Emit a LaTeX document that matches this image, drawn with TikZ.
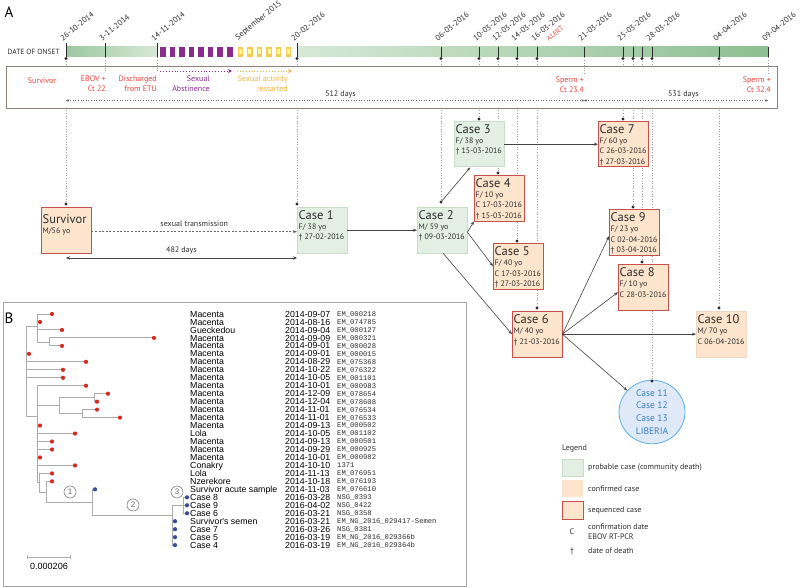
\documentclass[tikz,border=0pt]{standalone}
\usepackage{fontspec}
\setmainfont{PT Sans}
\newfontfamily\arialf{Liberation Sans}
\newfontfamily\monof{Liberation Mono}
\usetikzlibrary{arrows.meta,shapes.geometric}
\definecolor{probfill}{HTML}{E3EFE3}
\definecolor{probdraw}{HTML}{CCDACC}
\definecolor{conffill}{HTML}{FDE4CD}
\definecolor{confdraw}{HTML}{EED8C4}
\definecolor{seqdraw}{HTML}{C8504A}
\definecolor{txtdark}{HTML}{2E2E2E}
\definecolor{tlred}{HTML}{E5453B}
\definecolor{purp}{HTML}{8B2C8C}
\definecolor{yelt}{HTML}{F0B43C}
\definecolor{yelsq}{HTML}{F6CB55}
\definecolor{linkc}{HTML}{444444}
\definecolor{dotc}{HTML}{9A9A9A}
\definecolor{tickc}{HTML}{2A2A2A}
\definecolor{treec}{HTML}{ABABAB}
\definecolor{reddot}{HTML}{D42A20}
\definecolor{bluedot}{HTML}{3C4A9C}
\definecolor{ellfill}{HTML}{DFE9F7}
\definecolor{elldraw}{HTML}{5FB0E6}
\definecolor{elltext}{HTML}{3A7EC8}
\definecolor{boxline}{HTML}{8C847C}
\definecolor{barlight}{HTML}{D6E9D6}
\definecolor{bardark}{HTML}{8DBF92}
\newcommand\mycsttl{\fontsize{12.5}{13}\selectfont}
\newcommand\mycssub{\fontsize{7.9}{10.3}\selectfont}
\newcommand\mydatef{\fontsize{8}{9}\selectfont}
\newcommand\myboxf{\fontsize{8}{10}\selectfont}
\newcommand\mylegf{\fontsize{8}{10}\selectfont}
\tikzset{
 casebox/.style={draw, minimum width=49.5pt, minimum height=45.5pt, inner sep=0pt, anchor=north west, line width=0.9pt},
 prob/.style={casebox, fill=probfill, draw=probdraw},
 conf/.style={casebox, fill=conffill, draw=confdraw},
 seqc/.style={casebox, fill=conffill, draw=seqdraw},
 casetext/.style={anchor=north west, inner sep=0pt, align=left, font=\mycssub, text=txtdark},
 link/.style={draw=linkc, line width=0.6pt, -{Stealth[length=4pt,width=3pt]}},
 vdots/.style={draw=dotc, dotted, line width=0.6pt},
 datelbl/.style={rotate=39, anchor=south west, inner sep=0.3pt, font=\mydatef, text=txtdark},
 redtxt/.style={text=tlred, font=\myboxf, align=right, anchor=east, inner sep=0pt},
 treel/.style={draw=treec, line width=0.9pt},
 bname/.style={anchor=base west, inner sep=0pt, font=\arialf\fontsize{8.8}{9}\selectfont, text=black},
 bid/.style={anchor=base west, inner sep=0pt, font=\monof\fontsize{7.2}{8}\selectfont, text=txtdark},
 cnum/.style={circle, draw=gray, line width=0.6pt, minimum size=12pt, inner sep=0pt, font=\arialf\fontsize{8}{8}\selectfont, text=gray!80!black, fill=white},
 legtxt/.style={anchor=west, inner sep=0pt, font=\mylegf, text=txtdark, align=left},
}
\begin{document}
\begin{tikzpicture}[x=1pt,y=-1pt]
\useasboundingbox (0,0) rectangle (800,588);
\fill[white] (0,0) rectangle (800,588);

\node[font=\fontsize{15}{15}\selectfont, inner sep=0pt] (lblA) at (9,12) {A};
\node[anchor=east, font=\fontsize{7.5}{8}\selectfont, text=txtdark, inner sep=0pt] (dto) at (60,52) {DATE OF ONSET};

% bar
\shade[left color=bardark!80!barlight, right color=barlight] (66,47) rectangle (157,57);
\shade[left color=barlight, right color=bardark] (297,47) rectangle (768,57);
\foreach \k in {0,...,7} \fill[purp] ({160+9.55*\k},47) rectangle ++(5.7,10);
\foreach \k in {0,...,5} {\fill[yelsq] ({237.5+9.6*\k},47) rectangle ++(5.5,10);
  \fill[yellow!40!white] ({238.7+9.6*\k},49.5) rectangle ++(3.1,5);}

% ticks
\foreach \xx in {66,105,157,297} \draw[tickc, line width=0.8pt] (\xx,43) -- (\xx,57.5);
\foreach \xx in {441,479,498,517,537,584,623,633,642,652,719,768} \draw[tickc, line width=0.8pt] (\xx,47) -- (\xx,57.5);

% timeline dot coordinates
\foreach \nm/\xx in {sv/66,c1/297,c2/441,c3/479,c4/498,c5/517,c6/537,c7/623,c9/633,c8/642,el/652,c10/719}
  \coordinate (t\nm) at (\xx,58.5);
\coordinate (t311) at (105,57.5);
\coordinate (t1411) at (157,57.5);
\coordinate (t2103) at (584,57.5);
\coordinate (t0904) at (768,57.5);

% date labels
\node[datelbl] (l1) at (63,42) {26-10-2014};
\node[datelbl] (l2) at (102,42) {3-11-2014};
\node[datelbl] (l3) at (154,42) {14-11-2014};
\node[datelbl] (l4) at (239,42) {September 2015};
\node[datelbl] (l5) at (294,42) {20-02-2016};
\node[datelbl] (l6) at (438,42) {06-03-2016};
\node[datelbl] (l7) at (476,42) {10-03-2016};
\node[datelbl] (l8) at (495,42) {12-03-2016};
\node[datelbl] (l9) at (514,42) {14-03-2016};
\node[datelbl] (l10) at (534,42) {16-03-2016};
\node[datelbl, text=tlred, font=\fontsize{7}{8}\selectfont] (lal) at (549,42) {ALERT};
\node[datelbl] (l11) at (581,42) {21-03-2016};
\node[datelbl] (l12) at (620,42) {25-03-2016};
\node[datelbl] (l13) at (649,42) {28-03-2016};
\node[datelbl] (l14) at (716,42) {04-04-2016};
\node[datelbl] (l15) at (765,42) {09-04-2016};

% case dot coordinates
\coordinate (dsv) at (66,204);
\coordinate (dc1) at (297,204);
\coordinate (dc2) at (441,202);
\coordinate (dc3) at (479,119);
\coordinate (dc4) at (498,173);
\coordinate (dc5) at (517,241);
\coordinate (dc6) at (537,308);
\coordinate (dc7) at (623,119);
\coordinate (dc9) at (633,207);
\coordinate (dc8) at (642,262);
\coordinate (del) at (652,381);
\coordinate (dc10) at (719,308);

% vertical dotted connectors
\foreach \nm in {sv,c1,c2,c3,c4,c5,c6,c7,c9,c8,el,c10}
  \draw[vdots] (t\nm) -- (d\nm);

% timeline box
\node[draw=boxline, fill=white, line width=0.9pt, anchor=north west, minimum width=771pt, minimum height=42pt, inner sep=0pt] (tbox) at (6,66) {};
\coordinate (e311) at (105,73);
\coordinate (e1411) at (157,73);
\coordinate (e2103) at (584,74);
\coordinate (e0904) at (768,74);
\draw[vdots] (t311) -- (e311);
\draw[vdots] (t1411) -- (e1411);
\draw[vdots] (t2103) -- (e2103);
\draw[vdots] (t0904) -- (e0904);
\foreach \xx in {66,297,441,479,498,517,537,623,633,642,652,719} \fill[tickc] (\xx,58.5) circle[radius=1.7pt];

\node[text=tlred, font=\myboxf, inner sep=0pt] (bsv) at (42,81) {Survivor};
\node[redtxt] (bebov) at (106,84) {EBOV +\\Ct 22};
\node[redtxt] (bdis) at (157,84) {Discharged\\from ETU};
\node[redtxt, text=purp] (babs) at (210,84) {Sexual\\Abstinence};
\node[redtxt, text=yelt] (bres) at (288,84) {Sexual activity\\restarted};
\node[redtxt] (bsp1) at (584,85) {Sperm +\\Ct 23.4};
\node[redtxt] (bsp2) at (771,85) {Sperm +\\Ct 32.4};
\coordinate (pa1) at (160,71); \coordinate (pa2) at (232,71);
\coordinate (ya1) at (237,71); \coordinate (ya2) at (292,71);
\draw[purp, dotted, line width=0.9pt, -{Stealth[length=4pt,width=4pt]}] (pa1) -- (pa2);
\draw[yelt, dotted, line width=0.9pt, -{Stealth[length=4pt,width=4pt]}] (ya1) -- (ya2);
\coordinate (d512a) at (66,100.5); \coordinate (d512b) at (584,100.5); \coordinate (d531b) at (768,100.5);
\draw[dotc!70!black, dotted, line width=0.6pt, {Stealth[length=2.5pt,width=2.5pt]}-{Stealth[length=2.5pt,width=2.5pt]}] (d512a) -- node[pos=0.53, above=-1pt, font=\mylegf, text=txtdark] (t512) {512 days} (d512b);
\draw[dotc!70!black, dotted, line width=0.6pt, {Stealth[length=2.5pt,width=2.5pt]}-{Stealth[length=2.5pt,width=2.5pt]}] (d512b) -- node[pos=0.54, above=-1pt, font=\mylegf, text=txtdark] (t531) {531 days} (d531b);

% case boxes
\node[seqc] (sv) at (41,207) {};
\node[prob] (c1) at (297,207) {};
\node[prob] (c2) at (417,207) {};
\node[prob] (c3) at (454,121) {};
\node[seqc] (c4) at (474,175) {};
\node[seqc] (c5) at (493,243) {};
\node[seqc] (c6) at (512,311) {};
\node[seqc] (c7) at (598,121) {};
\node[seqc] (c8) at (618,264) {};
\node[seqc] (c9) at (609,209) {};
\node[conf] (c10) at (696,311) {};
\node[ellipse, draw=elldraw, fill=ellfill, line width=0.8pt, minimum width=66pt, minimum height=62pt, inner sep=0pt, align=center, text=elltext, font=\fontsize{9.5}{12.7}\selectfont] (el) at (652,412) {Case 11\\Case 12\\Case 13\\LIBERIA};

\node[casetext] (svt) at ([shift={(1.5,7)}]sv.north west) {{\mycsttl Survivor}\\M/56 yo};
\node[casetext] (c1t) at ([shift={(1.5,3.3)}]c1.north west) {{\mycsttl Case 1}\\F/ 38 yo\\† 27-02-2016};
\node[casetext] (c2t) at ([shift={(1.5,3.3)}]c2.north west) {{\mycsttl Case 2}\\M/ 59 yo\\† 09-03-2016};
\node[casetext] (c3t) at ([shift={(1.5,3.3)}]c3.north west) {{\mycsttl Case 3}\\F/ 38 yo\\† 15-03-2016};
\node[casetext] (c4t) at ([shift={(1.5,3.3)}]c4.north west) {{\mycsttl Case 4}\\F/ 10 yo\\C 17-03-2016\\† 15-03-2016};
\node[casetext] (c5t) at ([shift={(1.5,3.3)}]c5.north west) {{\mycsttl Case 5}\\F/ 40 yo\\C 17-03-2016\\† 27-03-2016};
\node[casetext] (c6t) at ([shift={(1.5,3.3)}]c6.north west) {{\mycsttl Case 6}\\M/ 40 yo\\† 21-03-2016};
\node[casetext] (c7t) at ([shift={(1.5,3.3)}]c7.north west) {{\mycsttl Case 7}\\F/ 60 yo\\C 26-03-2016\\† 27-03-2016};
\node[casetext] (c8t) at ([shift={(1.5,3.3)}]c8.north west) {{\mycsttl Case 8}\\F/ 10 yo\\C 28-03-2016};
\node[casetext] (c9t) at ([shift={(1.5,3.3)}]c9.north west) {{\mycsttl Case 9}\\F/ 23 yo\\C 02-04-2016\\† 03-04-2016};
\node[casetext] (c10t) at ([shift={(1.5,3.3)}]c10.north west) {{\mycsttl Case 10}\\M/ 70 yo\\C 06-04-2016};

\foreach \nm in {sv,c1,c2,c3,c4,c5,c6,c7,c9,c8,el,c10} \fill[tickc] (d\nm) circle[radius=1.7pt];

% links
\draw[link, dashed, dash pattern=on 2pt off 1.6pt, draw=linkc!80] ([yshift=-1.5pt]sv.east) -- node[above=1pt, font=\mylegf, text=txtdark] (lst) {sexual transmission} ([yshift=-1.5pt]c1.west);
\coordinate (m1) at (66,258); \coordinate (m2) at (297,258);
\draw[draw=linkc, line width=0.7pt, {Stealth[length=4pt,width=3.5pt]}-{Stealth[length=4pt,width=3.5pt]}] (m1) -- node[above=0pt, font=\mylegf, text=txtdark] (l482) {482 days} (m2);
\draw[link] (c1.east) -- (c2.west);
\draw[link] (dc2) -- ([xshift=-9pt]c3.south);
\draw[link] ([yshift=-2pt]c2.east) -- (c4.south west);
\draw[link] ([yshift=-2pt]c2.east) -- (c5.west);
\draw[link] ([xshift=1pt]c2.south) -- (c6.west);
\draw[link] (c3.east) -- (c7.west);
\draw[link] (c6.east) -- ([yshift=-4pt]c9.west);
\draw[link] (c6.east) -- ([yshift=-5pt]c8.west);
\draw[link] (c6.east) -- (c10.west);
\draw[link] (c6.east) -- (el);

% ---------------- Panel B
\node[draw=gray!70, line width=1.2pt, anchor=north west, minimum width=463pt, minimum height=284pt, inner sep=0pt] (pb) at (3,302) {};
\node[font=\fontsize{15}{15}\selectfont, inner sep=0pt] (lblB) at (9,318) {B};

% tree
\draw[treel] (26,326) -- (26,416.7) (26,326) -- (37,326)
 (37,314) -- (37,342) (37,314) -- (52,314) (37,322) -- (40,322) (37,329.9) -- (62,329.9)
 (37,342) -- (49,342) (49,337.9) -- (49,345.9) (49,337.9) -- (154,337.9) (49,345.9) -- (62,345.9)
 (26,353.9) -- (29,353.9) (26,361.8) -- (86,361.8) (26,369.8) -- (63,369.8) (26,377.8) -- (63,377.8)
 (26,416.7) -- (37,416.7) (37,385.7) -- (37,482.7) (37,385.7) -- (86,385.7)
 (37,405) -- (59,405) (59,397.3) -- (59,413.3) (59,397.3) -- (94,397.3)
 (94,393.7) -- (94,401.7) (94,393.7) -- (108,393.7) (94,401.7) -- (97,401.7)
 (59,413.3) -- (82,413.3) (82,409.6) -- (82,417.6) (82,409.6) -- (97,409.6) (82,417.6) -- (120,417.6)
 (37,425.6) -- (40,425.6) (37,433.6) -- (75,433.6) (37,441.5) -- (52,441.5) (37,449.5) -- (52,449.5)
 (37,457.5) -- (40,457.5) (37,465.4) -- (75,465.4)
 (37,482.7) -- (39,482.7) (39,473.4) -- (39,492) (39,473.4) -- (52,473.4)
 (39,492) -- (46,492) (46,481.4) -- (46,502.7) (46,481.4) -- (52,481.4)
 (46,502.7) -- (92,502.7) (92,489.3) -- (92,515.7) (92,489.3) -- (95,489.3)
 (92,515.7) -- (172,515.7) (172,505) -- (172,545.1) (172,505) -- (183,505)
 (183,497.3) -- (183,513.3) (183,497.3) -- (187,497.3) (183,505.3) -- (187,505.3) (183,513.3) -- (187,513.3)
 (172,521.2) -- (175,521.2) (172,529.2) -- (175,529.2) (172,537.2) -- (175,537.2) (172,545.1) -- (175,545.1);

\foreach \xx/\i in {52/0,40/1,62/2,154/3,62/4,29/5,86/6,63/7,63/8,86/9,108/10,97/11,97/12,120/13,40/14,75/15,52/16,52/17,40/18,75/19,52/20,52/21}
  \fill[reddot] (\xx,{314+7.97*\i}) circle[radius=2.1pt];
\foreach \xx/\i in {95/22,187/23,187/24,187/25,175/26,175/27,175/28,175/29}
  \fill[bluedot] (\xx,{314+7.97*\i}) circle[radius=2.1pt];

\node[cnum] (n1) at (70,492) {1};
\node[cnum] (n2) at (133,505) {2};
\node[cnum] (n3) at (177,492) {3};

\coordinate (sb1) at (27,557); \coordinate (sb2) at (70,557);
\draw[treel, line width=0.8pt] (sb1) -- (sb2) ([yshift=2pt]sb1) -- ([yshift=-2pt]sb1) ([yshift=2pt]sb2) -- ([yshift=-2pt]sb2);
\node[font=\arialf\fontsize{9}{9}\selectfont, inner sep=0pt] (sbt) at (49,566) {0.000206};

\foreach \nm/\dt/\idt [count=\i from 0] in {
Macenta/2014-09-07/EM\_000218,
Macenta/2014-08-16/EM\_074785,
Gueckedou/2014-09-04/EM\_000127,
Macenta/2014-09-09/EM\_000321,
Macenta/2014-09-01/EM\_000028,
Macenta/2014-09-01/EM\_000015,
Macenta/2014-08-29/EM\_075368,
Macenta/2014-10-22/EM\_076322,
Macenta/2014-10-05/EM\_001101,
Macenta/2014-10-01/EM\_000983,
Macenta/2014-12-09/EM\_078654,
Macenta/2014-12-04/EM\_078608,
Macenta/2014-11-01/EM\_076534,
Macenta/2014-11-01/EM\_076533,
Macenta/2014-09-13/EM\_000502,
Lola/2014-10-05/EM\_001102,
Macenta/2014-09-13/EM\_000501,
Macenta/2014-09-29/EM\_000925,
Macenta/2014-10-01/EM\_000982,
Conakry/2014-10-10/1371,
Lola/2014-11-13/EM\_076951,
Nzerekore/2014-10-18/EM\_076193,
Survivor acute sample/2014-11-03/EM\_076610,
Case 8/2016-03-28/NSG\_0393,
Case 9/2016-04-02/NSG\_0422,
Case 6/2016-03-21/NSG\_0358,
Survivor's semen/2016-03-21/EM\_NG\_2016\_029417-Semen,
Case 7/2016-03-26/NSG\_0381,
Case 5/2016-03-19/EM\_NG\_2016\_029366b,
Case 4/2016-03-19/EM\_NG\_2016\_029364b}{
  \node[bname] (bn\i) at (190,{314+7.97*\i+3.1}) {\nm};
  \node[bname] (bd\i) at (285,{314+7.97*\i+3.1}) {\dt};
  \node[bid] (bi\i) at (337,{314+7.97*\i+2.4}) {\idt};
}

% legend
\node[legtxt] (lgt) at (562,449) {Legend};
\node[prob, minimum width=21pt, minimum height=17pt] (lg1) at (562,459) {};
\node[conf, draw=none, minimum width=21pt, minimum height=17pt] (lg2) at (562,480) {};
\node[seqc, minimum width=21pt, minimum height=18pt] (lg3) at (562,501) {};
\node[legtxt] (lgt1) at (588,468) {probable case (community death)};
\node[legtxt] (lgt2) at (588,489) {confirmed case};
\node[legtxt] (lgt3) at (588,510) {sequenced case};
\node[font=\mylegf, text=txtdark, inner sep=0pt] (lgc) at (572,532) {C};
\node[legtxt] (lgt4) at (588,532) {confirmation date\\EBOV RT-PCR};
\node[font=\mylegf, text=txtdark, inner sep=0pt] (lgd) at (572,551) {†};
\node[legtxt] (lgt5) at (588,551) {date of death};
\end{tikzpicture}
\end{document}
